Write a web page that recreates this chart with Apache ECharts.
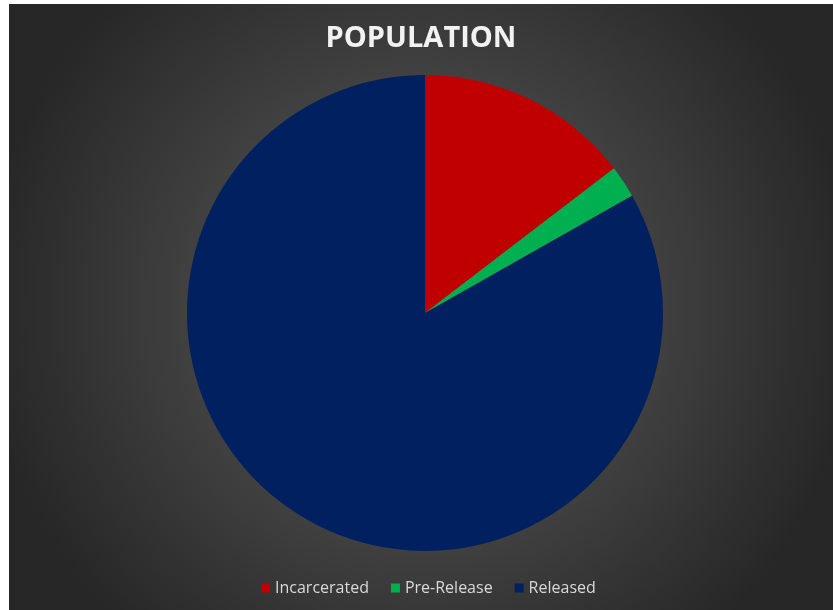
<!DOCTYPE html>
<html>
<head>
<meta charset="utf-8">
<script src="https://cdn.jsdelivr.net/npm/echarts@6/dist/echarts.min.js"></script>
<style>
html,body{margin:0;padding:0;background:#ffffff;}
#chart{position:absolute;left:9px;top:4px;width:824px;height:606px;}
</style>
</head>
<body>
<div id="chart"></div>
<script>
var categories = ['Incarcerated', 'Pre-Release', 'Released'];
var values = [14.6, 2.2, 83.2];
var colors = ['#c00000', '#00b050', '#002060'];

var chart = echarts.init(document.getElementById('chart'));
var data = categories.map(function (c, i) {
  return { name: c, value: values[i], itemStyle: { color: colors[i] } };
});
chart.setOption({
  backgroundColor: {
    type: 'radial', x: 0.5, y: 0.5, r: 0.72,
    colorStops: [{ offset: 0, color: '#5e5e5e' }, { offset: 1, color: '#272727' }]
  },
  title: {
    text: 'POPULATION',
    left: 'center',
    top: 15,
    textStyle: { color: '#f2f2f2', fontSize: 29, fontWeight: 'bold', fontFamily: 'Open Sans' }
  },
  legend: {
    bottom: 9,
    left: 247,
    itemWidth: 9,
    itemHeight: 9,
    itemGap: 22,
    icon: 'rect',
    textStyle: { color: '#d9d9d9', fontSize: 16, fontFamily: 'Open Sans' },
    data: categories
  },
  series: [{
    type: 'pie',
    center: [416, 309],
    radius: 238,
    startAngle: 90,
    clockwise: true,
    label: { show: false },
    labelLine: { show: false },
    emphasis: { disabled: true },
    itemStyle: { borderWidth: 0 },
    data: data
  }]
});
</script>
</body>
</html>
